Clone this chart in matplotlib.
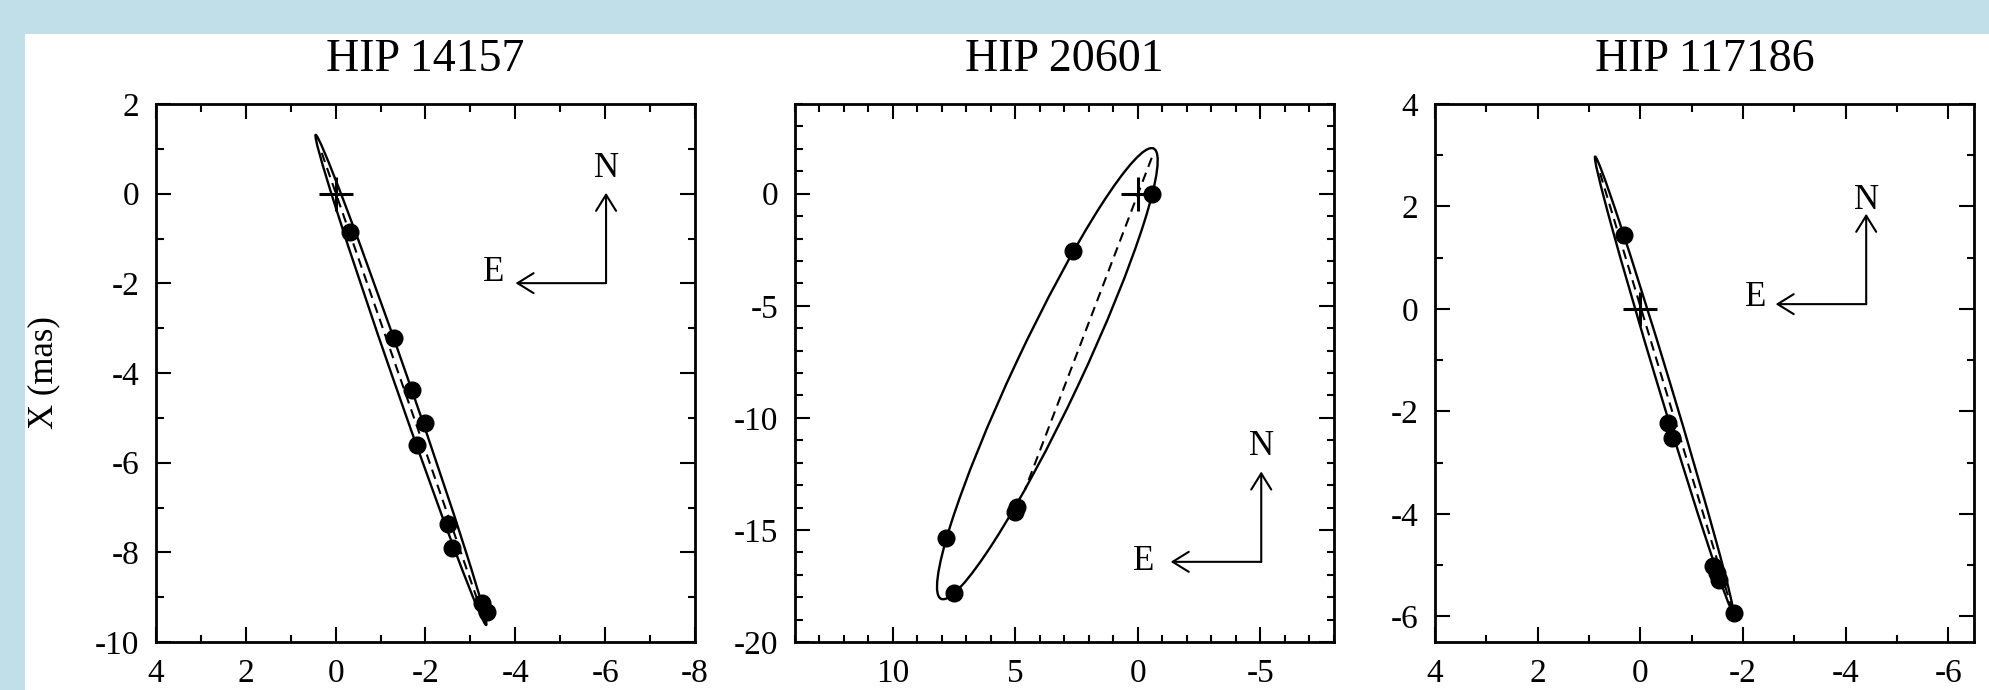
import numpy as np
import matplotlib
matplotlib.use('Agg')
import matplotlib.pyplot as plt
from matplotlib.patches import Ellipse, Rectangle
from matplotlib.ticker import MultipleLocator

plt.rcParams['font.family'] = ['Liberation Serif', 'DejaVu Serif']
plt.rcParams['axes.unicode_minus'] = False
plt.rcParams['lines.scale_dashes'] = False

titles = ['HIP 14157', 'HIP 20601', 'HIP 117186']
ylabel = 'X (mas)'

# observed positions (east offset, north offset) in mas
hip14157_east = [-0.32, -1.30, -1.69, -2.00, -1.80, -2.49, -2.60, -3.26, -3.36]
hip14157_north = [-0.85, -3.23, -4.37, -5.11, -5.60, -7.37, -7.91, -9.14, -9.32]
hip20601_east = [-0.57, 2.66, 4.95, 5.00, 7.84, 7.51]
hip20601_north = [0.00, -2.57, -13.96, -14.20, -15.34, -17.80]
hip117186_east = [0.31, -0.53, -0.61, -1.42, -1.50, -1.53, -1.83]
hip117186_north = [1.44, -2.22, -2.52, -5.01, -5.16, -5.29, -5.93]

# apparent orbit ellipses: centre east, centre north, semi-major, semi-minor, angle (deg)
hip14157_orbit = [-1.453, -4.155, 5.785, 0.155, 70.85]
hip20601_orbit = [3.70, -8.03, 10.94, 1.36, -66.7]
hip117186_orbit = [-0.46, -1.465, 4.635, 0.12, 73.19]

# line of nodes end points (east, north)
hip14157_nodes_east = [0.31, -3.35]
hip14157_nodes_north = [0.91, -9.62]
hip20601_nodes_east = [-0.56, 4.61]
hip20601_nodes_north = [1.60, -13.2]
hip117186_nodes_east = [0.785, -1.80]
hip117186_nodes_north = [2.65, -5.90]

W, H = 1990, 690
fig = plt.figure(figsize=(W/100, H/100), dpi=100, facecolor='#c1dfe9')
fig.patches.append(Rectangle((25/W, 0), 1 - 25/W, (H - 34)/H, transform=fig.transFigure,
                             facecolor='white', edgecolor='none', zorder=-10))

panels = [
    dict(left=156, east=hip14157_east, north=hip14157_north, orbit=hip14157_orbit,
         ne=hip14157_nodes_east, nn=hip14157_nodes_north, xlim=(4, -8), ylim=(-10, 2),
         maj=2, comp=(0.835, 0.667), n_off=11, e_off=(8, 1.5)),
    dict(left=795, east=hip20601_east, north=hip20601_north, orbit=hip20601_orbit,
         ne=hip20601_nodes_east, nn=hip20601_nodes_north, xlim=(14, -8), ylim=(-20, 4),
         maj=5, comp=(0.865, 0.149), n_off=12, e_off=(11.5, -5.8)),
    dict(left=1435, east=hip117186_east, north=hip117186_north, orbit=hip117186_orbit,
         ne=hip117186_nodes_east, nn=hip117186_nodes_north, xlim=(4, -6.5), ylim=(-6.5, 4),
         maj=2, comp=(0.80, 0.628), n_off=3.6, e_off=(7, -1)),
]

L = 0.168
for k, p in enumerate(panels):
    ax = fig.add_axes([p['left']/W, 48/H, 539/W, 538/H])
    ax.set_xlim(*p['xlim'])
    ax.set_ylim(*p['ylim'])
    cx, cy, a, b, ang = p['orbit']
    ax.add_patch(Ellipse((cx, cy), 2*a, 2*b, angle=ang, fill=False, lw=1.7, color='k'))
    ax.plot(p['ne'], p['nn'], color='k', lw=1.5, dashes=(7, 4.5))
    ax.plot([0], [0], marker='+', ms=24, mew=2.2, color='k', ls='none')
    ax.plot(p['east'], p['north'], 'o', ms=12, color='k', ls='none')
    ax.set_title(titles[k], fontsize=33, pad=24)
    ax.xaxis.set_major_locator(MultipleLocator(p['maj']))
    ax.yaxis.set_major_locator(MultipleLocator(p['maj']))
    ax.xaxis.set_minor_locator(MultipleLocator(1))
    ax.yaxis.set_minor_locator(MultipleLocator(1))
    ax.tick_params(which='both', direction='in', top=True, right=True, width=1.5,
                   labelsize=24, pad=12)
    ax.tick_params(which='major', length=10.8)
    ax.tick_params(which='minor', length=5.4)
    for s in ax.spines.values():
        s.set_linewidth(2)
    ccx, ccy = p['comp']
    akw = dict(arrowstyle='->,head_length=0.58,head_width=0.36', lw=1.5, color='k',
               mutation_scale=20, shrinkA=0, shrinkB=0)
    ax.annotate('', xy=(ccx, ccy + L), xytext=(ccx, ccy), xycoords='axes fraction', arrowprops=akw)
    ax.annotate('', xy=(ccx - L, ccy), xytext=(ccx, ccy), xycoords='axes fraction', arrowprops=akw)
    ax.annotate('N', xy=(ccx, ccy + L), xycoords='axes fraction', xytext=(0, p['n_off']),
                textcoords='offset points', ha='center', va='baseline', fontsize=25)
    ax.annotate('E', xy=(ccx - L, ccy), xycoords='axes fraction',
                xytext=(-p['e_off'][0], p['e_off'][1]),
                textcoords='offset points', ha='right', va='baseline', fontsize=25)
    if k == 0:
        ax.set_ylabel(ylabel, fontsize=25)
        ax.yaxis.set_label_coords(-0.178, 0.5)

fig.savefig('out.png', dpi=100, facecolor=fig.get_facecolor())
